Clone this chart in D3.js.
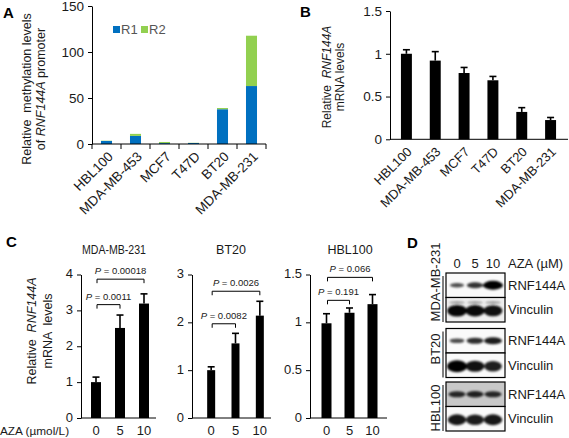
<!DOCTYPE html>
<html><head><meta charset="utf-8">
<script src="https://cdn.jsdelivr.net/npm/d3@7"></script>
<style>
body{margin:0;background:#fff;}
svg{display:block;font-family:"Liberation Sans",Arial,sans-serif;}
</style></head><body>
<svg id="c" width="569" height="438"></svg>
<script>
// ---------- DATA ----------
const catsA = ["HBL100","MDA-MB-453","MCF7","T47D","BT20","MDA-MB-231"];
const methR1 = [3.3, 8.8, 1.0, 1.1, 37.8, 63];
const methR2 = [0.3, 2.2, 1.2, 0.2, 1.3, 54.7];
const ticksA = [0, 50, 100, 150];

const catsB = ["HBL100","MDA-MB-453","MCF7","T47D","BT20","MDA-MB-231"];
const mrnaB = [1.0, 0.92, 0.775, 0.69, 0.32, 0.225];
const errB  = [0.047, 0.105, 0.065, 0.045, 0.05, 0.03];
const ticksB = [0, 0.5, 1, 1.5];

const doses = ["0","5","10"];
const mda231Vals = [1.0, 2.51, 3.19];
const mda231Errs = [0.14, 0.36, 0.27];
const mda231Ticks = [0,1,2,3,4];
const mda231P = ["0.0011", "0.00018"];
const bt20Vals = [1.0, 1.56, 2.14];
const bt20Errs = [0.07, 0.21, 0.30];
const bt20Ticks = [0,1,2,3];
const bt20P = ["0.0082", "0.0026"];
const hbl100Vals = [0.99, 1.10, 1.19];
const hbl100Errs = [0.10, 0.05, 0.10];
const hbl100Ticks = [0,0.5,1,1.5];
const hbl100P = ["0.191", "0.066"];

const blotCells = ["MDA-MB-231","BT20","HBL100"];
const blotProteins = ["RNF144A","Vinculin"];
const bandRNF  = [[0.30,0.55,1.0],[0.35,0.6,0.75],[0.6,0.65,0.6]];
const bandVinc = [[0.95,0.9,0.85],[1.0,0.85,0.72],[0.8,0.75,0.8]];

// ---------- DRAW ----------
const svg = d3.select("#c");
const TXT = "#1a1a1a";
const blue = "#0070C0", green = "#92D050";

function styleAxis(g, fs){
  g.selectAll("path.domain").attr("stroke","#000").attr("stroke-width",1);
  g.selectAll(".tick line").attr("stroke","#000");
  g.selectAll(".tick text").attr("fill",TXT).style("font-size",fs+"px").style("font-family","Liberation Sans, Arial, sans-serif");
}
function rotLabel(g, x, y, parts, fs){
  const t = g.append("text").attr("transform",`translate(${x},${y}) rotate(-90)`)
    .attr("text-anchor","middle").style("font-size",fs+"px").style("white-space","pre").attr("fill",TXT);
  parts.forEach(p=>t.append("tspan").text(p[0]).style("font-style",p[1]?"italic":"normal"));
  return t;
}
function panelLetter(x,y,l){
  svg.append("text").attr("x",x).attr("y",y).text(l).style("font-weight","bold").style("font-size","15px").attr("fill","#000");
}

// ===== Panel A =====
panelLetter(3,18,"A");
const gA = svg.append("g");
const xA = d3.scaleBand().domain(catsA).range([92,266]).paddingInner(0.62).paddingOuter(0.31);
const yA = d3.scaleLinear().domain([0,150]).range([144,6]);
const rowsA = catsA.map((c,i)=>({cat:c, R1:methR1[i], R2:methR2[i]}));
const stackA = d3.stack().keys(["R1","R2"])(rowsA);
gA.selectAll("g.s").data(stackA).join("g").attr("fill",d=>d.key==="R1"?blue:green)
  .selectAll("rect").data(d=>d).join("rect")
  .attr("x",d=>xA(d.data.cat)).attr("width",xA.bandwidth())
  .attr("y",d=>yA(d[1])).attr("height",d=>yA(d[0])-yA(d[1]));
const axA = gA.append("g").attr("transform","translate(92,0)")
  .call(d3.axisLeft(yA).tickValues(ticksA).tickSize(4).tickSizeOuter(0).tickPadding(4));
styleAxis(axA,13.5);
gA.append("line").attr("x1",92).attr("x2",266).attr("y1",yA(0)).attr("y2",yA(0)).attr("stroke","#000");
d3.range(catsA.length+1).forEach(i=>{
  const x = xA.range()[0] + i*xA.step();
  gA.append("line").attr("x1",x).attr("x2",x).attr("y1",yA(0)).attr("y2",yA(0)+5).attr("stroke","#000");
});
gA.selectAll("text.xl").data(catsA).join("text").attr("class","xl")
  .attr("transform",d=>`translate(${xA(d)+xA.bandwidth()/2+4},${yA(0)+10}) rotate(-45)`)
  .attr("text-anchor","end").attr("dy","0.35em").style("font-size","13.5px").attr("fill",TXT).text(d=>d);
[["R1",blue,113],["R2",green,141]].forEach(([k,c,x])=>{
  gA.append("rect").attr("x",x).attr("y",26).attr("width",7).attr("height",7).attr("fill",c);
  gA.append("text").attr("x",x+8).attr("y",34).text(k).style("font-size","13px").attr("fill","#555");
});
rotLabel(gA,31,89,[["Relative  methylation levels",false]],12.5);
rotLabel(gA,45,89,[["of ",false],["RNF144A",true],[" promoter",false]],12.5);

// ===== Panel B =====
panelLetter(300,17,"B");
const gB = svg.append("g");
const xB = d3.scaleBand().domain(catsB).range([392,565]).paddingInner(0.62).paddingOuter(0.31);
const yB = d3.scaleLinear().domain([0,1.5]).range([139.3,11]);
gB.selectAll("rect").data(catsB).join("rect")
  .attr("x",d=>xB(d)).attr("width",xB.bandwidth())
  .attr("y",(d,i)=>yB(mrnaB[i])).attr("height",(d,i)=>yB(0)-yB(mrnaB[i])).attr("fill","#000");
catsB.forEach((c,i)=>{
  const cx = xB(c)+xB.bandwidth()/2;
  gB.append("line").attr("x1",cx).attr("x2",cx).attr("y1",yB(mrnaB[i])).attr("y2",yB(mrnaB[i]+errB[i])).attr("stroke","#000").attr("stroke-width",1.6);
  gB.append("line").attr("x1",cx-3.5).attr("x2",cx+3.5).attr("y1",yB(mrnaB[i]+errB[i])).attr("y2",yB(mrnaB[i]+errB[i])).attr("stroke","#000").attr("stroke-width",1.6);
});
const axB = gB.append("g").attr("transform","translate(390,0)")
  .call(d3.axisLeft(yB).tickValues(ticksB).tickFormat(d3.format("~g")).tickSize(4).tickSizeOuter(0).tickPadding(4));
styleAxis(axB,13.5);
gB.append("line").attr("x1",390).attr("x2",568).attr("y1",yB(0)).attr("y2",yB(0)).attr("stroke","#000");
gB.selectAll("text.xl").data(catsB).join("text").attr("class","xl")
  .attr("transform",d=>`translate(${xB(d)+xB.bandwidth()/2+3},${yB(0)+10}) rotate(-45)`)
  .attr("text-anchor","end").attr("dy","0.35em").style("font-size","13px").attr("fill",TXT).text(d=>d);
rotLabel(gB,331,77,[["Relative  ",false],["RNF144A",true]],12);
rotLabel(gB,344,77,[["mRNA levels",false]],12);

// ===== Panel C =====
panelLetter(6,247,"C");
const gC = svg.append("g");
rotLabel(gC,36,331,[["Relative  ",false],["RNF144A",true]],12.5);
rotLabel(gC,52,331,[["mRNA  levels",false]],12.5);
gC.append("text").attr("x",0).attr("y",434.5).text("AZA (µmol/L)").style("font-size","11.8px").attr("fill",TXT);

function sub(o){
  const g = gC.append("g");
  const pin = 1-o.bw/((o.x1-o.x0)/3);
  const x = d3.scaleBand().domain(doses).range([o.x0,o.x1]).paddingInner(pin).paddingOuter(pin/2);
  const y = d3.scaleLinear().domain([0,o.max]).range([418,274.5]);
  g.selectAll("rect").data(doses).join("rect").attr("x",d=>x(d)).attr("width",x.bandwidth())
    .attr("y",(d,i)=>y(o.vals[i])).attr("height",(d,i)=>y(0)-y(o.vals[i])).attr("fill","#000");
  doses.forEach((d,i)=>{
    const cx = x(d)+x.bandwidth()/2, t = y(o.vals[i]+o.errs[i]);
    g.append("line").attr("x1",cx).attr("x2",cx).attr("y1",y(o.vals[i])).attr("y2",t).attr("stroke","#000").attr("stroke-width",1.6);
    g.append("line").attr("x1",cx-3.5).attr("x2",cx+3.5).attr("y1",t).attr("y2",t).attr("stroke","#000").attr("stroke-width",1.6);
  });
  const ax = g.append("g").attr("transform",`translate(${o.ax},0)`)
    .call(d3.axisLeft(y).tickValues(o.ticks).tickFormat(d3.format("~g")).tickSize(4).tickSizeOuter(0).tickPadding(4));
  styleAxis(ax,13);
  ax.selectAll(".tick text").attr("dy","0.26em");
  g.append("line").attr("x1",o.ax).attr("x2",o.xe).attr("y1",y(0)).attr("y2",y(0)).attr("stroke","#000");
  g.selectAll("text.xl").data(doses).join("text").attr("class","xl")
    .attr("x",d=>x(d)+x.bandwidth()/2).attr("y",434.5).attr("text-anchor","middle")
    .style("font-size","13px").attr("fill",TXT).text(d=>d);
  const tt = g.append("text").attr("x",o.tx).attr("y",254).attr("text-anchor","middle").style("font-size","12.5px").attr("fill",TXT).text(o.title);
  if(o.tl) tt.attr("textLength",o.tl).attr("lengthAdjust","spacingAndGlyphs");
  const cxs = doses.map(d=>x(d)+x.bandwidth()/2);
  o.br.forEach((b,k)=>{
    const yy = y(b), xa = cxs[0]+1, xb = cxs[k+1];
    g.append("path").attr("d",`M${xa},${yy+4}V${yy}H${xb}V${yy+4}`).attr("fill","none").attr("stroke","#000").attr("stroke-width",1);
    const t = g.append("text").attr("x",(xa+xb)/2).attr("y",yy-5).attr("text-anchor","middle").style("font-size","9.5px").attr("fill",TXT);
    t.append("tspan").text("P").style("font-style","italic");
    t.append("tspan").text(" = "+o.p[k]);
  });
}
sub({x0:84,x1:156,bw:10,ax:81,xe:156,vals:mda231Vals,errs:mda231Errs,ticks:mda231Ticks,max:4,title:"MDA-MB-231",tx:114,tl:64,br:[3.16,3.87],p:mda231P});
sub({x0:199,x1:272,bw:8,ax:192,xe:271,vals:bt20Vals,errs:bt20Errs,ticks:bt20Ticks,max:3,title:"BT20",tx:231,br:[1.97,2.65],p:bt20P});
sub({x0:315,x1:384,bw:10,ax:310,xe:387,vals:hbl100Vals,errs:hbl100Errs,ticks:hbl100Ticks,max:1.5,title:"HBL100",tx:350,br:[1.23,1.47],p:hbl100P});

// ===== Panel D =====
panelLetter(407,248,"D");
const gD = svg.append("g");
const defs = svg.append("defs");
defs.append("filter").attr("id","blur").attr("x","-50%").attr("y","-100%").attr("width","200%").attr("height","300%")
  .append("feGaussianBlur").attr("stdDeviation",1.3);
const lanes = d3.scalePoint().domain(doses).range([457,493]);
gD.selectAll("text.ln").data(doses).join("text").attr("x",d=>lanes(d)).attr("y",268).attr("text-anchor","middle")
  .style("font-size","13px").attr("fill",TXT).text(d=>d);
gD.append("text").attr("x",508).attr("y",268).text("AZA (µM)").style("font-size","13px").attr("fill",TXT);
const pairTops = [273, 328.5, 382];
const labelCenters = [282, 349, 408];
const boxH = 24.5, bx0 = 446, bx1 = 505;
blotCells.forEach((cell,ci)=>{
  const top = pairTops[ci];
  blotProteins.forEach((prot,pi)=>{
    const y0 = top + pi*boxH;
    const bg = (ci===2 && pi===0) ? "#c8c8c8" : (ci===0 && pi===1 ? "#efefef" : "#fafafa");
    gD.append("rect").attr("x",bx0).attr("y",y0).attr("width",bx1-bx0).attr("height",boxH).attr("fill",bg);
    const ints = pi===0 ? bandRNF[ci] : bandVinc[ci];
    const gb = gD.append("g").attr("filter","url(#blur)");
    if(ci===0 && pi===1){
      doses.forEach(d=>gb.append("ellipse").attr("cx",lanes(d)).attr("cy",y0+5).attr("rx",8).attr("ry",1.2).attr("fill","#555").attr("opacity",0.6));
    }
    doses.forEach((d,li)=>{
      const v = ints[li];
      const ry = pi===0 ? 1.2+3.2*v : 3+3*v;
      gb.append("ellipse").attr("cx",lanes(d)).attr("cy",y0+boxH/2+(pi===1?1:0))
        .attr("rx",6+4*v).attr("ry",ry).attr("fill","#000").attr("opacity",0.55+0.45*v);
    });
    gD.append("rect").attr("x",bx0).attr("y",y0).attr("width",bx1-bx0).attr("height",boxH)
      .attr("fill","none").attr("stroke","#000").attr("stroke-width",1.2);
    gD.append("text").attr("x",508).attr("y",y0+boxH/2).attr("dy","0.36em").text(prot)
      .style("font-size","13px").attr("fill",TXT);
  });
  gD.append("line").attr("x1",443).attr("x2",443).attr("y1",top+3).attr("y2",top+2*boxH).attr("stroke","#000");
  gD.append("text").attr("transform",`translate(440,${labelCenters[ci]}) rotate(-90)`).attr("text-anchor","middle")
    .style("font-size","13px").attr("fill",TXT).text(cell);
});
</script></body></html>
